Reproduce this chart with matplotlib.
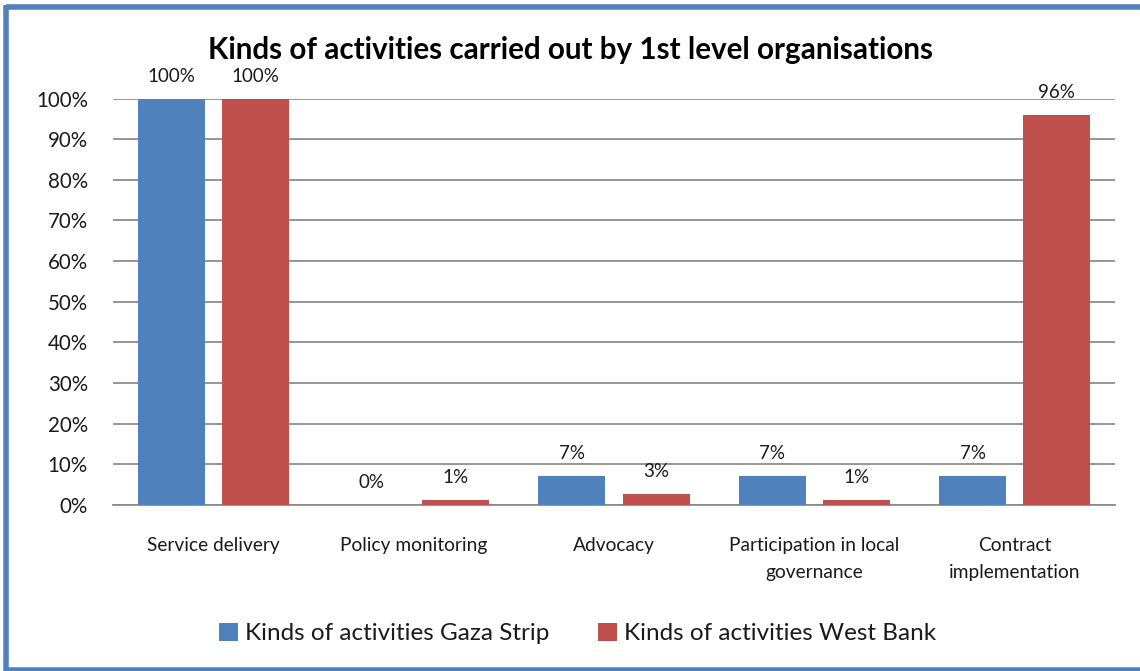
import matplotlib
matplotlib.use("Agg")
import matplotlib.pyplot as plt
from matplotlib.lines import Line2D
from matplotlib.ticker import PercentFormatter
import numpy as np

plt.rcParams['font.family'] = ['Lato', 'DejaVu Sans']

title = "Kinds of activities carried out by 1st level organisations"
categories = ["Service delivery", "Policy monitoring", "Advocacy",
              "Participation in local\ngovernance", "Contract\nimplementation"]
series_names = ["Kinds of activities Gaza Strip", "Kinds of activities West Bank"]
gaza = [100, 0, 7.1, 7.1, 7.1]
west_bank = [100, 1.2, 2.7, 1.2, 96]
yticks = list(range(0, 101, 10))

blue = "#4F81BD"
red = "#C0504D"
grid_col = "#8C8C8C"
text_col = "#1A1A1A"

fig = plt.figure(figsize=(11.4, 6.71), dpi=100)
ax = fig.add_axes([0.0991, 0.2474, 0.8790, 0.6058])

x = np.arange(len(categories))
width = 0.335
offset = 0.21
bars_g = ax.bar(x - offset, gaza, width, color=blue, label=series_names[0], zorder=3)
bars_w = ax.bar(x + offset, west_bank, width, color=red, label=series_names[1], zorder=3)

for bars, vals in ((bars_g, gaza), (bars_w, west_bank)):
    for b, v in zip(bars, vals):
        ax.annotate(f"{v:.0f}%", (b.get_x() + b.get_width() / 2, v),
                    xytext=(0, 16), textcoords="offset points",
                    ha="center", va="center", fontsize=13.5, color=text_col)

ax.set_xlim(-0.5, len(categories) - 0.5)
ax.set_ylim(0, 100)
ax.set_yticks(yticks)
ax.yaxis.set_major_formatter(PercentFormatter(decimals=0))
ax.set_xticks(x)
ax.set_xticklabels(categories, fontsize=13.8, color=text_col, linespacing=1.7)
ax.tick_params(axis="x", length=0, pad=23)
ax.tick_params(axis="y", length=0, pad=18, labelsize=14.8, labelcolor=text_col)
ax.grid(axis="y", color=grid_col, linewidth=1.3, zorder=0)
ax.set_axisbelow(True)
for s in ("top", "right", "left"):
    ax.spines[s].set_visible(False)
ax.spines["bottom"].set_color(grid_col)
ax.spines["bottom"].set_linewidth(1.3)

fig.text(0.5, 0.925, title, ha="center", va="center",
         fontsize=21.3, fontweight="bold", color="black")

fig.legend(handles=[bars_g, bars_w], labels=series_names, loc="center",
           bbox_to_anchor=(0.507, 0.056), ncol=2, frameon=False,
           fontsize=17.5, handlelength=0.75, handleheight=0.75,
           handletextpad=0.32, columnspacing=2.0, labelcolor=text_col)

# Chart-area frame
frame_kw = dict(color=blue, linewidth=4, transform=fig.transFigure, solid_capstyle="butt")
fig.add_artist(Line2D([0.0055, 1.0], [0.9895, 0.9895], **frame_kw))
fig.add_artist(Line2D([0.0055, 0.0055], [0.0, 0.9925], **frame_kw))
fig.add_artist(Line2D([0.0055, 1.0], [0.002, 0.002], **frame_kw))

fig.savefig("out.png", dpi=100, facecolor="white")
